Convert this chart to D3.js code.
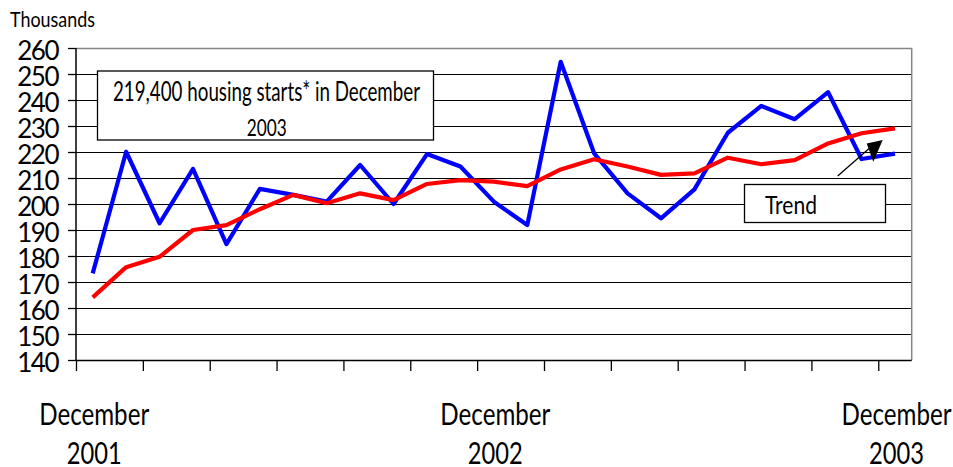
<!DOCTYPE html>
<html><head><meta charset="utf-8">
<script src="https://cdn.jsdelivr.net/npm/d3@7"></script>
<style>
html,body{margin:0;padding:0;background:#fff;}
svg{display:block;}
text{font-family:Lato,"DejaVu Sans",sans-serif;fill:#000;}
</style>
</head><body>
<svg id="c" width="953" height="467"></svg>
<script>
// ---- data ----
const months = ["Dec 2001","Jan 2002","Feb 2002","Mar 2002","Apr 2002","May 2002","Jun 2002","Jul 2002","Aug 2002","Sep 2002","Oct 2002","Nov 2002","Dec 2002","Jan 2003","Feb 2003","Mar 2003","Apr 2003","May 2003","Jun 2003","Jul 2003","Aug 2003","Sep 2003","Oct 2003","Nov 2003","Dec 2003"];
const housingStarts = [173.3,220.1,192.6,213.5,184.6,205.8,203.5,200.9,215.0,200.0,219.2,214.4,200.9,191.9,254.7,219.5,204.1,194.5,205.6,227.4,237.7,232.6,243.0,217.3,219.4];
const trend = [164.1,175.7,179.7,190.0,191.9,198.0,203.5,200.3,204.1,201.5,207.7,209.2,208.6,206.9,213.3,217.2,214.4,211.2,211.8,217.8,215.3,216.9,223.3,227.2,229.1];
const yTicks = [140,150,160,170,180,190,200,210,220,230,240,250,260];
const xLabelIndex = [0,12,24];
const xLabelMonth = ["December","December","December"];
const xLabelYear = ["2001","2002","2003"];
const unitLabel = "Thousands";
const noteLines = ["219,400 housing starts* in December","2003"];
const trendLabel = "Trend";

// ---- layout ----
const L = 76, R = 911.7, T = 48, B = 360;
const svg = d3.select("#c");
const x = d3.scaleLinear().domain([0, months.length]).range([L, R]);
const y = d3.scaleLinear().domain([140, 260]).range([B, T]);

// gridlines
svg.append("g").selectAll("line").data(yTicks.filter(v => v > 140 && v < 260)).join("line")
  .attr("x1", L).attr("x2", R).attr("y1", d => Math.round(y(d)) + 0.5).attr("y2", d => Math.round(y(d)) + 0.5)
  .attr("stroke", "#000").attr("stroke-width", 1);

// plot border top & right (gray)
svg.append("path").attr("d", `M${L},${T + 0.5}H${R}V${B}`).attr("fill", "none")
  .attr("stroke", "#868686").attr("stroke-width", 1.5);

// y axis
const yAxis = svg.append("g").attr("transform", `translate(${L},0)`)
  .call(d3.axisLeft(y).tickValues(yTicks).tickSize(8).tickPadding(10));
yAxis.select(".domain").remove();
yAxis.selectAll(".tick line").attr("stroke", "#000").attr("stroke-width", 1.3);
yAxis.selectAll(".tick text").attr("font-size", 26).attr("font-family", "Lato").attr("letter-spacing", -1.5)
  .attr("dy", "0.45em").attr("fill", "#000");

// x axis
const xAxis = svg.append("g").attr("transform", `translate(0,${B})`)
  .call(d3.axisBottom(x).tickValues(d3.range(0, months.length, 2)).tickSize(11).tickFormat(""));
xAxis.select(".domain").remove();
xAxis.selectAll(".tick line").attr("stroke", "#000").attr("stroke-width", 1.3);

// axis lines
svg.append("line").attr("x1", L).attr("x2", L).attr("y1", T).attr("y2", B + 1).attr("stroke", "#000").attr("stroke-width", 1.5);
svg.append("line").attr("x1", L).attr("x2", R).attr("y1", B + 0.5).attr("y2", B + 0.5).attr("stroke", "#000").attr("stroke-width", 1.6);

// lines
const line = d3.line().x((d, i) => x(i + 0.5)).y(d => y(d));
svg.append("path").datum(housingStarts).attr("d", line).attr("fill", "none")
  .attr("stroke", "#0000ff").attr("stroke-width", 4.2).attr("stroke-linejoin", "round");
svg.append("path").datum(trend).attr("d", line).attr("fill", "none")
  .attr("stroke", "#ff0000").attr("stroke-width", 4.2).attr("stroke-linejoin", "round");

// unit label
svg.append("text").attr("x", 10).attr("y", 27).attr("font-size", 21)
  .attr("textLength", 85).attr("lengthAdjust", "spacingAndGlyphs").text(unitLabel);

// x labels
xLabelIndex.forEach((idx, k) => {
  svg.append("text").attr("x", x(idx + 0.5) + 1.5).attr("y", 425).attr("text-anchor", "middle")
    .attr("font-size", 30).attr("textLength", 110).attr("lengthAdjust", "spacingAndGlyphs").text(xLabelMonth[k]);
  svg.append("text").attr("x", x(idx + 0.5) + 1.5).attr("y", 463.5).attr("text-anchor", "middle")
    .attr("font-size", 30).attr("textLength", 55).attr("lengthAdjust", "spacingAndGlyphs").text(xLabelYear[k]);
});

// annotation box
svg.append("rect").attr("x", 97.5).attr("y", 71).attr("width", 336).attr("height", 69)
  .attr("fill", "#fff").attr("stroke", "#000").attr("stroke-width", 1.3);
svg.append("text").attr("x", 266.5).attr("y", 101).attr("text-anchor", "middle").attr("font-size", 26)
  .attr("textLength", 307).attr("lengthAdjust", "spacingAndGlyphs").text(noteLines[0]);
svg.append("text").attr("x", 266.7).attr("y", 136).attr("text-anchor", "middle").attr("font-size", 24)
  .attr("textLength", 40).attr("lengthAdjust", "spacingAndGlyphs").text(noteLines[1]);

// trend box
svg.append("rect").attr("x", 744.5).attr("y", 184.5).attr("width", 141).attr("height", 38)
  .attr("fill", "#fff").attr("stroke", "#000").attr("stroke-width", 1.3);
svg.append("text").attr("x", 765).attr("y", 214).attr("font-size", 25.5)
  .attr("textLength", 52).attr("lengthAdjust", "spacingAndGlyphs").text(trendLabel);

// arrow
svg.append("line").attr("x1", 837.7).attr("y1", 176).attr("x2", 872).attr("y2", 146)
  .attr("stroke", "#000").attr("stroke-width", 1.3);
svg.append("polygon").attr("points", "866.7,143.5 882.7,140 873.3,161.7").attr("fill", "#000");
</script>
</body></html>
